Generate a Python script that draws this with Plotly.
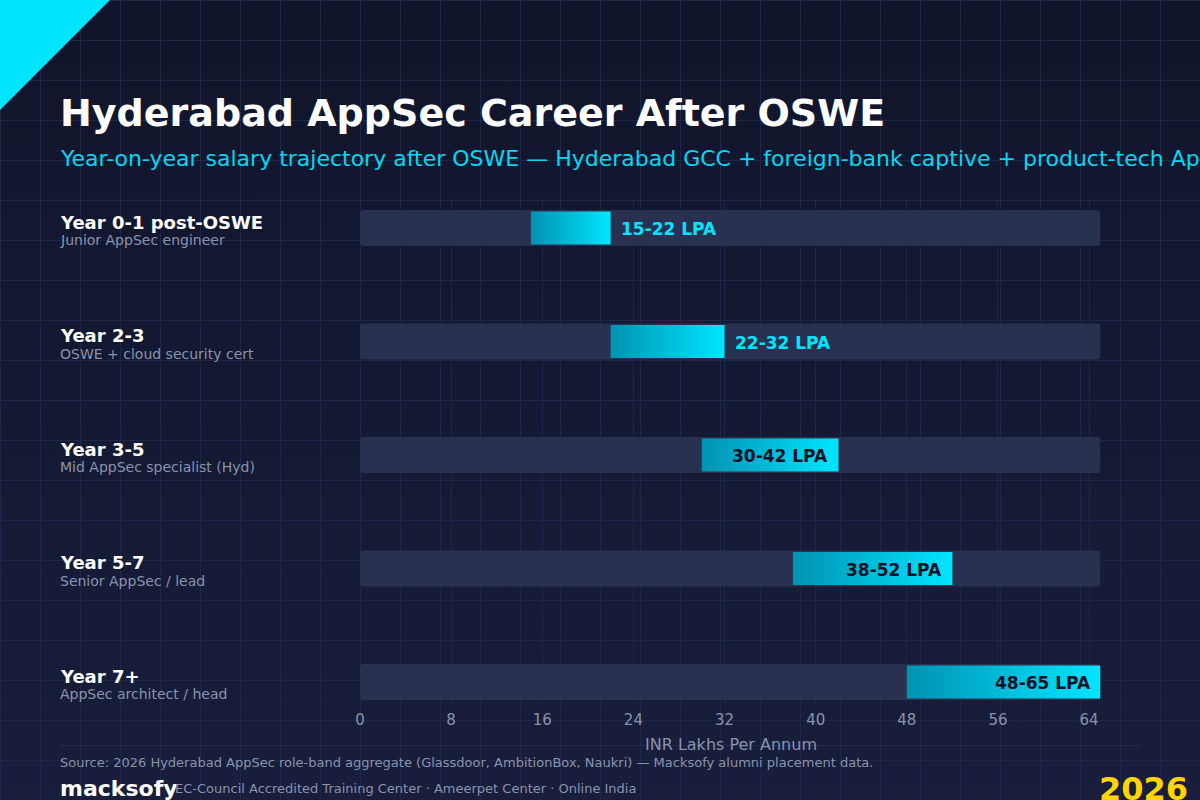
import plotly.graph_objects as go

# ---------------- data ----------------
stages = ["Year 0-1 post-OSWE", "Year 2-3", "Year 3-5", "Year 5-7", "Year 7+"]
roles = ["Junior AppSec engineer", "OSWE + cloud security cert",
         "Mid AppSec specialist (Hyd)", "Senior AppSec / lead", "AppSec architect / head"]
low = [15, 22, 30, 38, 48]
high = [22, 32, 42, 52, 65]
scale_max = 65
x_ticks = [0, 8, 16, 24, 32, 40, 48, 56, 64]

title = "Hyderabad AppSec Career After OSWE"
subtitle = ("Year-on-year salary trajectory after OSWE \u2014 Hyderabad GCC + foreign-bank captive + "
            "product-tech AppSec roles")
x_title = "INR Lakhs Per Annum"
source = ("Source: 2026 Hyderabad AppSec role-band aggregate (Glassdoor, AmbitionBox, Naukri) \u2014 "
          "Macksofy alumni placement data.")
brand = "macksofy"
brand_sub = "EC-Council Accredited Training Center \u00b7 Ameerpet Center \u00b7 Online India"
year_tag = "2026"

# ---------------- style ----------------
W, H = 1200, 800
FONT = "DejaVu Sans"
BG_TOP, BG_BOT = "#10152b", "#181e3b"
GRID = "#1f2748"
TRACK = "#283150"
CYAN = "#00e5ff"
CYAN_DARK = "#0093b2"
MUTED = "#8a93ad"
DARK_TXT = "#0b1226"

PX_PER_ROW = 113.5
plot_top_px, plot_bot_px = 200, 705
first_row_px = 228
y_top_val = -(first_row_px - plot_top_px) / PX_PER_ROW
y_bot_val = y_top_val + (plot_bot_px - plot_top_px) / PX_PER_ROW


def py(px):
    return 1 - px / H


def px_x(px):
    return px / W


fig = go.Figure()

# background gradient (full-page axes)
fig.add_trace(go.Scatter(
    x=[0, 1, 1, 0, 0], y=[0, 0, 1, 1, 0], mode="lines", line=dict(width=0),
    fill="toself",
    fillgradient=dict(type="vertical", colorscale=[[0, BG_BOT], [1, BG_TOP]]),
    hoverinfo="skip", showlegend=False, xaxis="x", yaxis="y"))

# background 40px grid
gx, gy = [], []
for p in range(0, W + 1, 40):
    gx += [(p + 0.5) / W, (p + 0.5) / W, None]
    gy += [0, 1, None]
for p in range(0, H + 1, 40):
    gx += [0, 1, None]
    gy += [py(p + 0.5), py(p + 0.5), None]
fig.add_trace(go.Scatter(x=gx, y=gy, mode="lines", line=dict(color=GRID, width=1),
                         hoverinfo="skip", showlegend=False, xaxis="x", yaxis="y"))

rows = list(range(len(stages)))

# track bars
fig.add_trace(go.Bar(
    x=[scale_max] * len(stages), y=rows, base=0, orientation="h", width=0.317,
    marker=dict(color=TRACK, line=dict(width=0), cornerradius=4),
    hoverinfo="skip", showlegend=False, xaxis="x2", yaxis="y2"))

# gradient salary bands
half = 0.145
for i, (lo, hi) in enumerate(zip(low, high)):
    fig.add_trace(go.Scatter(
        x=[lo, hi, hi, lo, lo], y=[i - half, i - half, i + half, i + half, i - half],
        mode="lines", line=dict(width=0), fill="toself",
        fillgradient=dict(type="horizontal", colorscale=[[0, CYAN_DARK], [1, CYAN]]),
        hoverinfo="skip", showlegend=False, xaxis="x2", yaxis="y2"))

annotations = []
for i, (lo, hi) in enumerate(zip(low, high)):
    txt = f"{lo}-{hi} LPA"
    if hi - lo >= 12:
        annotations.append(dict(x=hi, y=i, xref="x2", yref="y2", text=f"<b>{txt}</b>",
                                xanchor="right", yanchor="middle", xshift=-8, yshift=-1,
                                showarrow=False,
                                font=dict(family=FONT, size=17, color=DARK_TXT)))
    else:
        annotations.append(dict(x=hi, y=i, xref="x2", yref="y2", text=f"<b>{txt}</b>",
                                xanchor="left", yanchor="middle", xshift=8, yshift=-1,
                                showarrow=False,
                                font=dict(family=FONT, size=17, color=CYAN)))
    c_px = first_row_px + i * PX_PER_ROW
    annotations.append(dict(x=px_x(58), y=py(c_px - 5.7), xref="paper", yref="paper",
                            text=f"<b>{stages[i]}</b>", xanchor="left", yanchor="middle",
                            showarrow=False, font=dict(family=FONT, size=18, color="#ffffff")))
    annotations.append(dict(x=px_x(58), y=py(c_px + 12.2), xref="paper", yref="paper",
                            text=roles[i], xanchor="left", yanchor="middle",
                            showarrow=False, font=dict(family=FONT, size=14, color=MUTED)))

# titles and footer
annotations += [
    dict(x=px_x(58), y=py(113), xref="paper", yref="paper", text=f"<b>{title}</b>",
         xanchor="left", yanchor="middle", showarrow=False,
         font=dict(family=FONT, size=38, color="#ffffff")),
    dict(x=px_x(58), y=py(158.5), xref="paper", yref="paper", text=subtitle,
         xanchor="left", yanchor="middle", showarrow=False,
         font=dict(family=FONT, size=22, color="#00d8f2")),
    dict(x=(px_x(360) + px_x(1101)) / 2, y=py(744.5), xref="paper", yref="paper", text=x_title,
         xanchor="center", yanchor="middle", showarrow=False,
         font=dict(family=FONT, size=16, color=MUTED)),
    dict(x=px_x(58), y=py(762.5), xref="paper", yref="paper", text=source,
         xanchor="left", yanchor="middle", showarrow=False,
         font=dict(family=FONT, size=13, color=MUTED)),
    dict(x=px_x(58), y=py(788.4), xref="paper", yref="paper", text=f"<b>{brand}</b>",
         xanchor="left", yanchor="middle", showarrow=False,
         font=dict(family=FONT, size=22, color="#ffffff")),
    dict(x=px_x(173), y=py(788.5), xref="paper", yref="paper", text=brand_sub,
         xanchor="left", yanchor="middle", showarrow=False,
         font=dict(family=FONT, size=13, color=MUTED)),
    dict(x=px_x(1190), y=py(789), xref="paper", yref="paper", text=f"<b>{year_tag}</b>",
         xanchor="right", yanchor="middle", showarrow=False,
         font=dict(family=FONT, size=32, color="#ffd400")),
]

shapes = [
    dict(type="path", xref="paper", yref="paper",
         path=f"M 0 1 L {px_x(110)} 1 L 0 {py(110)} Z",
         fillcolor=CYAN, line=dict(width=0), layer="above"),
    dict(type="line", xref="paper", yref="paper", x0=px_x(60), x1=px_x(1140),
         y0=py(745.5), y1=py(745.5), line=dict(color="#232b4e", width=1), layer="above"),
]

fig.update_layout(
    width=W, height=H, autosize=False,
    margin=dict(l=0, r=0, t=0, b=0, pad=0, autoexpand=False),
    paper_bgcolor=BG_TOP, plot_bgcolor="rgba(0,0,0,0)",
    showlegend=False, hovermode=False,
    font=dict(family=FONT, color=MUTED),
    xaxis=dict(domain=[0, 1], range=[0, 1], visible=False, fixedrange=True, automargin=False),
    yaxis=dict(domain=[0, 1], range=[0, 1], visible=False, fixedrange=True, automargin=False),
    xaxis2=dict(domain=[px_x(360), px_x(1100.5)], range=[0, scale_max], anchor="y2",
                tickmode="array", tickvals=x_ticks, ticktext=[str(t) for t in x_ticks],
                tickfont=dict(family=FONT, size=15, color=MUTED), ticklabelstandoff=4,
                showgrid=True, gridcolor=GRID, gridwidth=1, zeroline=False,
                showline=False, ticks="", fixedrange=True, automargin=False),
    yaxis2=dict(domain=[py(plot_bot_px), py(plot_top_px)], range=[y_bot_val, y_top_val],
                anchor="x2", visible=False, fixedrange=True, automargin=False),
    annotations=annotations, shapes=shapes,
)

fig.write_html("out.html")
